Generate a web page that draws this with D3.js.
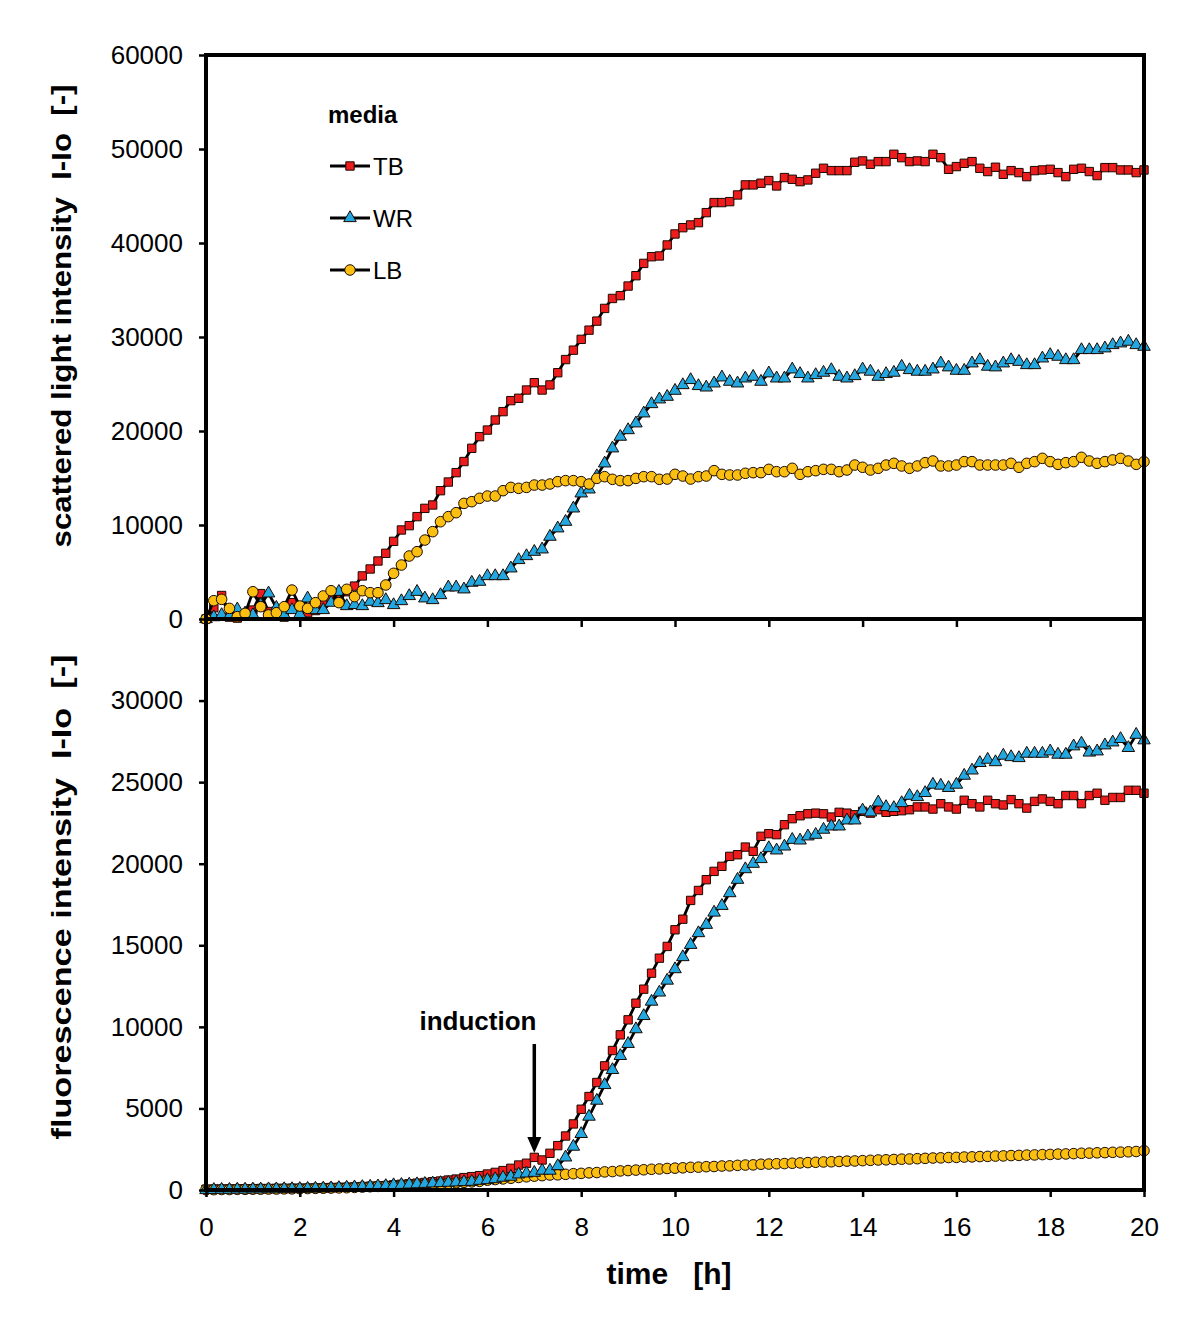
<!DOCTYPE html>
<html><head><meta charset="utf-8">
<script src="https://cdn.jsdelivr.net/npm/d3@7"></script>
<style>
body{margin:0;background:#fff}
svg text{font-family:"Liberation Sans",Arial,sans-serif;fill:#000}
</style>
</head><body>
<svg id="c" width="1200" height="1327"></svg>
<script>
// ---------- data ----------
const times = d3.range(121).map(i => i / 6); // 10-min sampling, 0..20 h
const xTickValues = [0, 2, 4, 6, 8, 10, 12, 14, 16, 18, 20];
const scatterTickValues = [0, 10000, 20000, 30000, 40000, 50000, 60000];
const fluorTickValues = [0, 5000, 10000, 15000, 20000, 25000, 30000];
const mediaNames = ["TB", "WR", "LB"];

const scatterTB = [0,1200,2500,200,100,300,950,2700,800,300,200,1740,600,670,900,1740,2200,2600,2900,3500,
4580,5320,6170,6990,8260,9470,9930,10890,11770,12130,13650,14570,15570,16750,18160,19400,20100,21170,22060,23230,
23480,24360,25140,24360,24900,26200,27600,28600,
29750,30730,31690,33040,34100,34400,35420,36520,37830,38540,
38620,39790,40960,41630,41920,42170,43230,44300,44300,44400,
45110,46180,46180,46360,46640,46070,46960,46780,46530,46710,
47420,47950,47700,47700,47700,48590,48730,48380,48660,48660,
49440,49080,48660,48730,48660,49440,49080,47840,48130,48480,
48660,47950,47600,48060,47310,47700,47490,47060,47700,47770,
47840,47490,47060,47840,47950,47600,47170,48020,48020,47770,
47770,47490,47770];

const scatterWR = [0,200,430,300,1030,600,430,1500,2730,1200,430,960,500,2200,960,960,1740,2900,1380,1500,
1380,1840,1700,2020,1490,1910,2450,2900,2200,2020,2550,3370,3370,3160,3870,3970,4570,4570,4570,5390,
6280,6700,7160,7410,8760,9650,10350,11770,13370,13790,15200,16560,18160,19400,20100,
20820,21880,22870,23370,23650,24290,24890,25430,24790,24640,
25070,25710,25250,25070,25600,25780,25250,26140,25600,25600,
26560,26070,25600,25960,26210,26490,25780,25600,25850,26560,
26320,25780,26070,26210,26850,26490,26320,26320,26560,27200,
26780,26420,26420,27200,27550,26850,26780,27200,27550,27370,
27020,27020,27730,28090,27910,27550,27550,28620,28620,28620,
28800,29150,29330,29510,29150,28970];

const scatterLB = [0,1950,2090,1130,250,600,2900,1310,430,670,1310,3080,1380,1130,1740,2450,3010,1740,3160,2380,
3010,2800,2800,3620,4860,5740,6700,7160,8400,9290,10350,10890,11310,12300,12480,12840,13080,13080,13650,14000,
13900,14000,14250,14250,14360,14610,14720,14720,
14610,14360,14960,15140,14860,14720,14720,14960,15140,15140,
14860,14890,15390,15210,14890,15140,15210,15780,15390,15320,
15320,15500,15570,15570,15920,15670,15670,16030,15390,15670,
15780,15920,15920,15670,15850,16380,16140,15850,16030,16380,
16560,16280,16030,16280,16630,16810,16280,16280,16380,16740,
16740,16380,16380,16380,16380,16560,16140,16560,16740,17090,
16740,16450,16630,16740,17200,16810,16560,16740,16920,17090,
16810,16450,16740];

const fluorTB = [50,60,60,70,70,80,80,90,90,100,100,110,110,120,130,140,150,160,170,190,
210,230,250,270,320,350,380,420,460,510,550,610,670,760,820,880,980,1080,1190,1330,
1530,1640,2000,1840,2250,2720,3310,4050,4950,5730,6590,7610,8550,9510,10430,11450,12310,
13290,14210,14930,15950,16600,17750,18360,19020,19530,19840,20450,20550,21020,20760,21680,
21840,21780,22390,22760,22940,23060,23100,23060,22860,23150,23100,23000,
23210,23100,23310,23150,23210,23250,23310,23480,23480,23350,23680,23480,
23350,23890,23680,23480,23890,23680,23600,23930,23680,23410,23820,23970,
23820,23680,24180,24180,23680,24180,24320,23890,24060,24060,24500,24500,24320];

const fluorWR = [0,10,20,20,30,30,40,40,50,50,60,60,70,80,90,100,110,130,150,170,
190,210,230,250,300,320,340,360,380,410,430,450,470,490,510,570,610,670,760,820,
960,1020,1060,1190,1190,1470,2000,2660,3440,4500,5480,6440,
7360,8220,8960,9860,10670,11550,12110,12840,13540,14280,
15030,15750,16260,17010,17420,18200,19020,19670,20000,20290,
20960,20820,21060,21470,21430,21680,21780,22090,22290,22290,
22660,22660,23270,23150,23760,23480,23420,23720,24170,24090,
24340,24850,24790,24650,24850,25400,25720,26180,26380,26230,
26630,26540,26480,26750,26750,26750,26890,26690,26690,27200,
27370,26820,26890,27260,27440,27650,27100,27910,27570];

const fluorLB = [20,20,30,30,40,40,50,50,60,60,70,70,80,90,100,110,120,130,140,160,
180,200,220,240,260,280,300,320,340,360,380,410,440,470,500,530,600,640,680,720,
770,810,850,880,920,930,960,1000,1020,1050,1070,1110,1130,1170,1190,1220,1240,1270,1290,1320,
1340,1360,1390,1400,1430,1440,1470,1480,1510,1530,1540,1580,1590,1610,1620,1640,1660,1680,
1700,1720,1730,1750,1770,1780,1800,1820,1840,1850,1870,1890,1900,1920,1940,1960,1970,1990,
2000,2020,2030,2050,2060,2080,2090,2110,2120,2140,2150,2170,2180,2200,2210,2230,2250,2260,
2280,2290,2310,2320,2340,2360,2410];

// ---------- styles ----------
const style = {
  TB: {fill: "#ee1c1c", symbol: d3.symbolSquare, size: 70},
  WR: {fill: "#22a7e0", symbol: d3.symbolTriangle, size: 68},
  LB: {fill: "#fbbf12", symbol: d3.symbolCircle, size: 88}
};

const svg = d3.select("#c");
const L = 206, R = 1144, T = 55, M = 619, B = 1190;
const x = d3.scaleLinear().domain([0, 20]).range([L, R]);
const yTop = d3.scaleLinear().domain([0, 60000]).range([M, T]);
const yBot = d3.scaleLinear().domain([0, 35000]).range([B, M]);

function drawSeries(g, yScale, name, values) {
  const st = style[name];
  const pts = times.map((t, i) => [t, values[i]]);
  g.append("path").datum(pts)
    .attr("fill", "none").attr("stroke", "#000").attr("stroke-width", 2.8)
    .attr("stroke-linejoin", "round")
    .attr("d", d3.line().x(d => x(d[0])).y(d => yScale(d[1])));
  g.append("g").selectAll("path").data(pts).join("path")
    .attr("transform", d => `translate(${x(d[0])},${yScale(d[1])})`)
    .attr("d", d3.symbol().type(st.symbol).size(st.size))
    .attr("fill", st.fill).attr("stroke", "#1a0a00").attr("stroke-width", 1);
}

// series (top: TB, WR, LB ; bottom: TB, LB, WR)
const gTop = svg.append("g");
drawSeries(gTop, yTop, "TB", scatterTB);
drawSeries(gTop, yTop, "WR", scatterWR);
drawSeries(gTop, yTop, "LB", scatterLB);
const gBot = svg.append("g");
drawSeries(gBot, yBot, "TB", fluorTB);
drawSeries(gBot, yBot, "LB", fluorLB);
drawSeries(gBot, yBot, "WR", fluorWR);

// axes
function styleAxis(g) {
  g.select(".domain").remove();
  g.selectAll(".tick line").attr("stroke", "#000").attr("stroke-width", 2.5);
  g.selectAll(".tick text").style("font-size", "26px").attr("fill", "#000");
}
svg.append("g").attr("transform", `translate(${L},0)`)
  .call(d3.axisLeft(yTop).tickValues(scatterTickValues).tickSize(7).tickPadding(16).tickFormat(d3.format("d")))
  .call(styleAxis);
svg.append("g").attr("transform", `translate(${L},0)`)
  .call(d3.axisLeft(yBot).tickValues(fluorTickValues).tickSize(7).tickPadding(16).tickFormat(d3.format("d")))
  .call(styleAxis);
svg.append("g").attr("transform", `translate(0,${B})`)
  .call(d3.axisBottom(x).tickValues(xTickValues).tickSize(7).tickPadding(21).tickFormat(d3.format("d")))
  .call(styleAxis);
svg.append("g").attr("transform", `translate(0,${M})`)
  .call(d3.axisBottom(x).tickValues(xTickValues).tickSize(8).tickFormat(""))
  .call(styleAxis);

// frames
svg.append("rect").attr("x", L).attr("y", T).attr("width", R - L).attr("height", M - T)
  .attr("fill", "none").attr("stroke", "#000").attr("stroke-width", 4);
svg.append("rect").attr("x", L).attr("y", M).attr("width", R - L).attr("height", B - M)
  .attr("fill", "none").attr("stroke", "#000").attr("stroke-width", 4);

// axis titles
svg.append("text").attr("transform", "translate(71,316) rotate(-90)")
  .attr("text-anchor", "middle").style("font-size", "28px").style("font-weight", "bold")
  .style("white-space", "pre").attr("textLength", 463).attr("lengthAdjust", "spacingAndGlyphs")
  .text("scattered light intensity  I-Io  [-]");
svg.append("text").attr("transform", "translate(71,897) rotate(-90)")
  .attr("text-anchor", "middle").style("font-size", "28px").style("font-weight", "bold")
  .style("white-space", "pre").attr("textLength", 485).attr("lengthAdjust", "spacingAndGlyphs")
  .text("fluorescence intensity  I-Io  [-]");
svg.append("text").attr("x", 669).attr("y", 1284)
  .attr("text-anchor", "middle").style("font-size", "30px").style("font-weight", "bold")
  .style("white-space", "pre").text("time   [h]");

// legend
const leg = svg.append("g");
leg.append("text").attr("x", 328).attr("y", 123).style("font-size", "24px").style("font-weight", "bold").text("media");
mediaNames.forEach((n, i) => {
  const yy = 166 + i * 52;
  leg.append("line").attr("x1", 330).attr("x2", 370).attr("y1", yy).attr("y2", yy)
    .attr("stroke", "#000").attr("stroke-width", 3);
  leg.append("path").attr("transform", `translate(350,${yy})`)
    .attr("d", d3.symbol().type(style[n].symbol).size(style[n].size))
    .attr("fill", style[n].fill).attr("stroke", "#1a0a00").attr("stroke-width", 1);
  leg.append("text").attr("x", 373).attr("y", yy + 9).style("font-size", "24px").text(n);
});

// induction annotation
const ax = x(7);
svg.append("text").attr("x", 478).attr("y", 1030).attr("text-anchor", "middle")
  .style("font-size", "26px").style("font-weight", "bold").text("induction");
svg.append("line").attr("x1", ax).attr("x2", ax).attr("y1", 1044).attr("y2", 1140)
  .attr("stroke", "#000").attr("stroke-width", 3.5);
svg.append("path").attr("d", `M${ax - 7},1137 L${ax + 7},1137 L${ax},1153 Z`).attr("fill", "#000");
</script>
</body></html>
